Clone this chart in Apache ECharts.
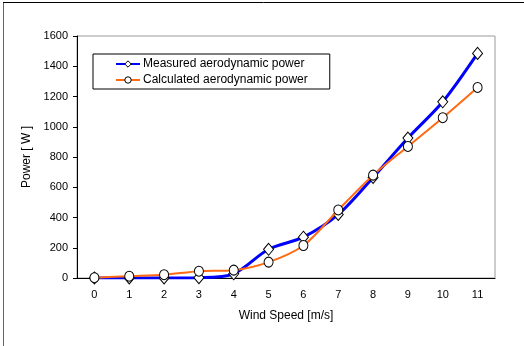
<!DOCTYPE html>
<html>
<head>
<meta charset="utf-8">
<script src="https://cdn.jsdelivr.net/npm/echarts@6/dist/echarts.min.js"></script>
<style>
  html, body { margin: 0; padding: 0; background: #fff; }
  #chart { width: 524px; height: 346px; }
</style>
</head>
<body>
<div id="chart"></div>
<script>
// Wind speed categories [m/s]
const windSpeed = ['0', '1', '2', '3', '4', '5', '6', '7', '8', '9', '10', '11'];
// Aerodynamic power [W]
const measuredPower = [0, 0, 0, 2, 28, 190, 270, 420, 665, 925, 1165, 1485];
const calculatedPower = [2, 12, 22, 45, 52, 105, 215, 450, 680, 870, 1060, 1260];
// Power axis ticks
const powerMin = 0, powerMax = 1600, powerStep = 200;

const font = 'Liberation Sans, Arial, sans-serif';
const chart = echarts.init(document.getElementById('chart'), null, { renderer: 'canvas' });

chart.setOption({
  animation: false,
  backgroundColor: '#fff',
  textStyle: { fontFamily: font, color: '#000' },
  grid: {
    left: 77, right: 29, top: 36, bottom: 68,
    show: true, borderColor: '#9a9a9a', borderWidth: 1, backgroundColor: 'transparent'
  },
  legend: {
    orient: 'vertical',
    left: 93, top: 54,
    padding: [4, 22, 3, 22],
    itemGap: 4,
    itemWidth: 24, itemHeight: 8,
    borderColor: '#000', borderWidth: 1,
    lineStyle: { width: 2 },
    itemStyle: { borderWidth: 1 },
    textStyle: { fontFamily: font, fontSize: 12, color: '#000', padding: [0, 0, 0, -2] },
    data: ['Measured aerodynamic power', 'Calculated aerodynamic power']
  },
  xAxis: {
    type: 'category',
    data: windSpeed,
    name: 'Wind Speed [m/s]',
    nameLocation: 'middle',
    nameGap: 32,
    nameTextStyle: { fontFamily: font, fontSize: 12, color: '#000' },
    axisLine: { lineStyle: { color: '#000', width: 1 } },
    axisTick: { inside: true, length: 3, lineStyle: { color: '#000' } },
    axisLabel: { fontFamily: font, fontSize: 11, color: '#000', margin: 11 },
    splitLine: { show: false }
  },
  yAxis: {
    type: 'value',
    min: powerMin, max: powerMax, interval: powerStep,
    name: 'Power [ W ]',
    nameLocation: 'middle',
    nameGap: 32,
    nameTextStyle: { fontFamily: font, fontSize: 12, color: '#000' },
    axisLine: { show: true, lineStyle: { color: '#000', width: 1 } },
    axisTick: { show: true, inside: false, length: 4, lineStyle: { color: '#000' } },
    axisLabel: { fontFamily: font, fontSize: 11, color: '#000', margin: 9, formatter: (v) => String(v) },
    splitLine: { show: false }
  },
  series: [
    {
      name: 'Measured aerodynamic power',
      type: 'line',
      data: measuredPower,
      smooth: 0.3,
      symbol: 'diamond',
      symbolSize: [10, 12],
      showAllSymbol: true,
      lineStyle: { color: '#0000ff', width: 3 },
      itemStyle: { color: '#fff', borderColor: '#000', borderWidth: 1 },
      z: 2
    },
    {
      name: 'Calculated aerodynamic power',
      type: 'line',
      data: calculatedPower,
      smooth: 0.3,
      symbol: 'circle',
      symbolSize: [9, 10],
      showAllSymbol: true,
      lineStyle: { color: '#ff6a13', width: 2 },
      itemStyle: { color: '#fff', borderColor: '#000', borderWidth: 1 },
      z: 3
    }
  ],
  graphic: [
    { type: 'line', shape: { x1: 3.5, y1: 2, x2: 3.5, y2: 346 }, style: { stroke: '#666', lineWidth: 1 } },
    { type: 'line', shape: { x1: 3, y1: 2.5, x2: 524, y2: 2.5 }, style: { stroke: '#000', lineWidth: 1 } }
  ]
});
</script>
</body>
</html>
